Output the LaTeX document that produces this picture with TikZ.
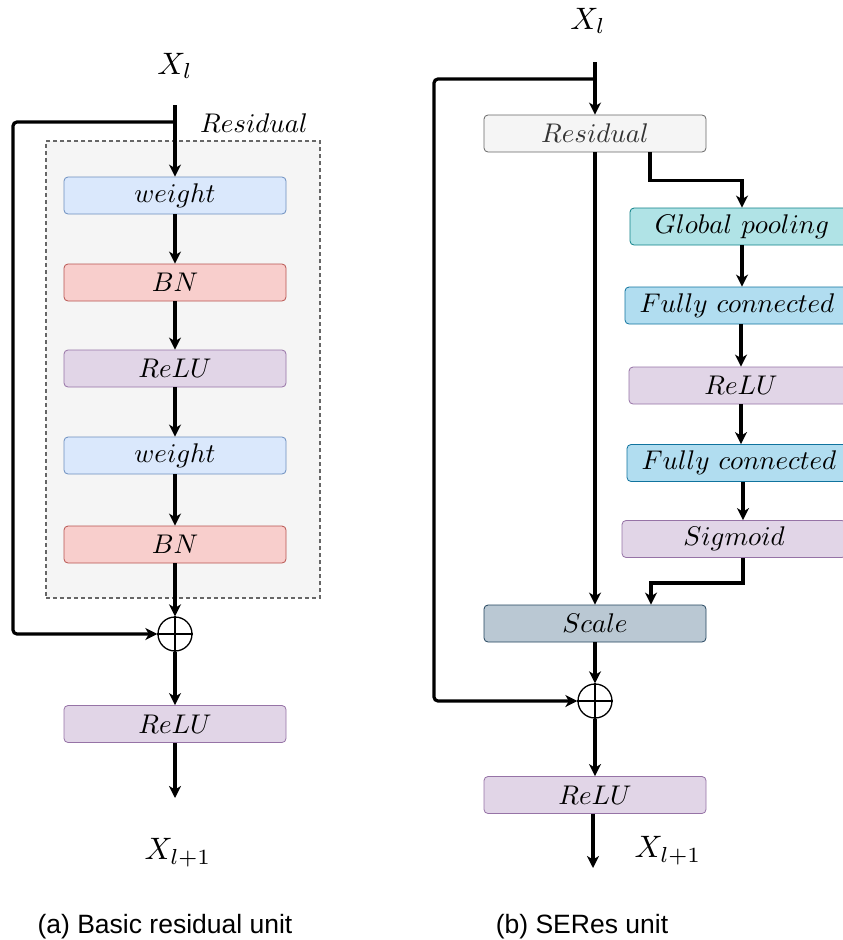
\documentclass[tikz,border=0pt]{standalone}
\usepackage{graphicx}
\usepackage{fontspec}
\newfontfamily\capfont{Liberation Sans}
\usetikzlibrary{arrows.meta}
\newcommand\mtx[2][2.7]{\scalebox{#1}{$#2$}}
\definecolor{wfill}{HTML}{DAE8FC}\definecolor{wline}{HTML}{6C8EBF}
\definecolor{bfill}{HTML}{F8CECC}\definecolor{bline}{HTML}{B85450}
\definecolor{rfill}{HTML}{E1D5E7}\definecolor{rline}{HTML}{9673A6}
\definecolor{gfill}{HTML}{B0E3E6}\definecolor{gline}{HTML}{0E8088}
\definecolor{ffill}{HTML}{B1DDF0}\definecolor{fline}{HTML}{10739E}
\definecolor{sfill}{HTML}{BAC8D3}\definecolor{sline}{HTML}{23445D}
\definecolor{efill}{HTML}{F5F5F5}\definecolor{eline}{HTML}{666666}
\definecolor{etext}{HTML}{333333}
\tikzset{
  blk/.style={rounded corners=4pt, minimum width=222pt, minimum height=37pt, line width=0.8pt, inner sep=0pt},
  wide/.style={blk, minimum width=224pt},
  wbox/.style={blk, fill=wfill, draw=wline},
  bbox/.style={blk, fill=bfill, draw=bline},
  rbox/.style={blk, fill=rfill, draw=rline},
  gbox/.style={wide, fill=gfill, draw=gline},
  fbox/.style={wide, fill=ffill, draw=fline},
  sbox/.style={blk, fill=sfill, draw=sline},
  ebox/.style={blk, fill=efill, draw=eline, text=etext},
  arr/.style={line width=3.2pt, -{Stealth[length=12pt,width=12pt,inset=3.5pt]}},
  fbarr/.style={arr, rounded corners=4pt},
  plus/.style={circle, draw, line width=1.3pt, minimum size=34pt, inner sep=0pt},
  xlab/.style={inner sep=0pt},
  captxt/.style={font=\capfont\fontsize{26.5}{31}\selectfont},
}
\begin{document}
\begin{tikzpicture}[x=1pt,y=-1pt]
\useasboundingbox (0,0) rectangle (843,940);
\clip (0,0) rectangle (843,940);
% ---------- (a) ----------
\node[draw=eline, fill=efill, dashed, dash pattern=on 4pt off 3pt, line width=1.2pt, minimum width=274pt, minimum height=457pt, inner sep=0pt] (dbox) at (183,369.5) {};
\node[inner sep=0pt] (reslab) at (254,123) {\mtx{Residual}};
\node[xlab] (xa) at (175,66) {\mtx[3.1]{X_l}};
\coordinate (a0) at (175,105);
\coordinate (asplit) at (175,122);
\coordinate (afb) at (13,122);
\node[wbox] (w1) at (175,195.5) {\mtx{weight}};
\node[bbox] (b1) at (175,282.5) {\mtx{BN}};
\node[rbox] (r1) at (175,368.5) {\mtx{ReLU}};
\node[wbox] (w2) at (175,455.5) {\mtx{weight}};
\node[bbox] (b2) at (175,544.5) {\mtx{BN}};
\node[plus] (p1) at (175,634) {};
\draw[line width=1.1pt] (p1.north) -- (p1.south) (p1.west) -- (p1.east);
\node[rbox] (r2) at (175,724) {\mtx{ReLU}};
\coordinate (aend) at (175,798);
\node[xlab] (xa2) at (178,853) {\mtx[3.1]{X_{l+1}}};
\draw[arr] (a0) -- (w1.north);
\draw[arr] (w1.south) -- (b1.north);
\draw[arr] (b1.south) -- (r1.north);
\draw[arr] (r1.south) -- (w2.north);
\draw[arr] (w2.south) -- (b2.north);
\draw[arr] (b2.south) -- (p1.north);
\draw[arr] (p1.south) -- (r2.north);
\draw[arr] (r2.south) -- (aend);
\draw[fbarr] (asplit) -- (afb) |- (p1.west);
\node[captxt] (capa) at (165,927) {(a) Basic residual unit};
% ---------- (b) ----------
\node[xlab] (xb) at (588,21) {\mtx[3.1]{X_l}};
\coordinate (b0) at (595,62);
\coordinate (bsplit) at (595,79);
\coordinate (bfb) at (434,79);
\node[ebox] (res) at (595,133.5) {\mtx{Residual}};
\node[gbox] (gp) at (742,226.5) {\mtx{Global\ pooling}};
\node[fbox] (fc1) at (737,305.5) {\mtx{Fully\ connected}};
\node[rbox, minimum width=224pt] (r3) at (741,385.5) {\mtx{ReLU}};
\node[fbox] (fc2) at (739,463) {\mtx{Fully\ connected}};
\node[rbox, minimum width=224pt] (sig) at (734,539) {\mtx{Sigmoid}};
\node[sbox] (sc) at (595,623.5) {\mtx{Scale}};
\node[plus] (p2) at (595,701) {};
\draw[line width=1.1pt] (p2.north) -- (p2.south) (p2.west) -- (p2.east);
\node[rbox] (r4) at (595,795) {\mtx{ReLU}};
\coordinate (bend) at (593,868);
\node[xlab] (xb2) at (668,851) {\mtx[3.1]{X_{l+1}}};
\draw[arr] (b0) -- (res.north);
\draw[arr] (res.south) -- (sc.north);
\draw[arr] ([xshift=55pt]res.south) -- ++(0,28) -| (gp.north);
\draw[arr] (gp.south) -- (gp.south |- fc1.north);
\draw[arr] (fc1.south -| r3.north) -- (r3.north);
\draw[arr] (r3.south) -- (r3.south |- fc2.north);
\draw[arr] ([xshift=4pt]fc2.south) -- ([xshift=4pt]fc2.south |- sig.north);
\draw[arr] ([xshift=9pt]sig.south) -- ++(0,25) -| ([xshift=56pt]sc.north);
\draw[arr] (sc.south) -- (p2.north);
\draw[arr] (p2.south) -- (r4.north);
\draw[arr] ([xshift=-2pt]r4.south) -- (bend);
\draw[fbarr] (bsplit) -- (bfb) |- (p2.west);
\node[captxt] (capb) at (582,927) {(b) SERes unit};
\end{tikzpicture}
\end{document}
